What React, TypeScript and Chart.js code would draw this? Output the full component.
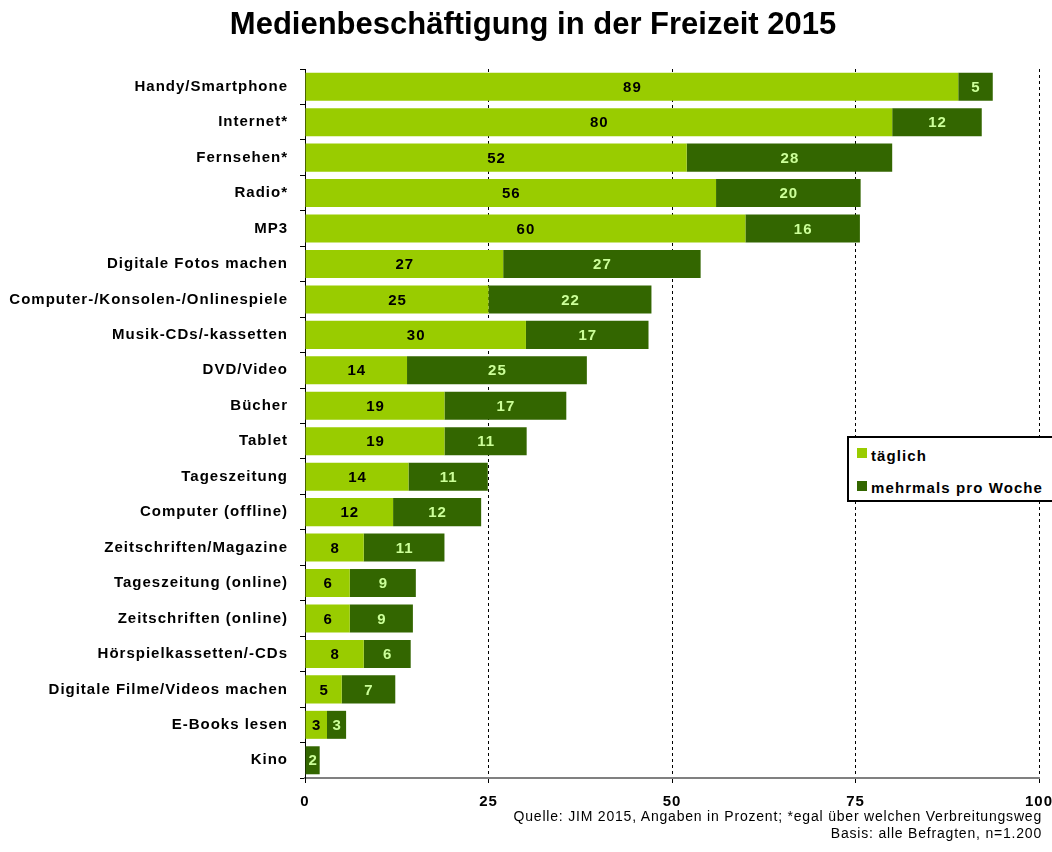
import React, { useEffect, useRef } from "react";
import { Chart, registerables } from "chart.js";

Chart.register(...registerables);

const categories = [
  "Handy/Smartphone",
  "Internet*",
  "Fernsehen*",
  "Radio*",
  "MP3",
  "Digitale Fotos machen",
  "Computer-/Konsolen-/Onlinespiele",
  "Musik-CDs/-kassetten",
  "DVD/Video",
  "Bücher",
  "Tablet",
  "Tageszeitung",
  "Computer (offline)",
  "Zeitschriften/Magazine",
  "Tageszeitung (online)",
  "Zeitschriften (online)",
  "Hörspielkassetten/-CDs",
  "Digitale Filme/Videos machen",
  "E-Books lesen",
  "Kino",
];

const taeglich = [89, 80, 52, 56, 60, 27, 25, 30.1, 13.9, 19, 19, 14.1, 12, 8, 6.1, 6.1, 8, 5, 3, 0];
const mehrmals = [4.7, 12.2, 28, 19.7, 15.6, 26.9, 22.2, 16.7, 24.5, 16.6, 11.2, 10.8, 12, 11, 9, 8.6, 6.4, 7.3, 2.6, 2];

const seriesNames = ["täglich", "mehrmals pro Woche"];
const seriesColors = ["#99CC00", "#336600"];
const xTicks = [0, 25, 50, 75, 100];
const titleText = "Medienbeschäftigung in der Freizeit 2015";
const sourceLines = [
  "Quelle: JIM 2015, Angaben in Prozent; *egal über welchen Verbreitungsweg",
  "Basis: alle Befragten, n=1.200",
];

const FONT = "'Liberation Sans', Arial, Helvetica, sans-serif";

const spacingPlugin = {
  id: "textSpacing",
  beforeDraw(chart: any) {
    try {
      (chart.ctx as any).letterSpacing = "1px";
    } catch (e) {
      /* ignore */
    }
  },
};

const barLabelPlugin = {
  id: "barLabels",
  afterDatasetsDraw(chart: any) {
    const ctx = chart.ctx;
    ctx.save();
    ctx.font = `bold 15px ${FONT}`;
    ctx.textAlign = "center";
    ctx.textBaseline = "middle";
    chart.data.datasets.forEach((ds: any, di: number) => {
      const meta = chart.getDatasetMeta(di);
      meta.data.forEach((el: any, i: number) => {
        const r = Math.round(ds.data[i]);
        if (r < 1) return;
        const p = el.getProps(["x", "y", "base"], true);
        ctx.fillStyle = di === 0 ? "#000000" : "#CCFF99";
        ctx.fillText(String(r), (p.x + p.base) / 2 + 0.5, p.y + 1);
      });
    });
    ctx.restore();
  },
};

export default function App() {
  const canvasRef = useRef<HTMLCanvasElement | null>(null);

  useEffect(() => {
    if (!canvasRef.current) return;
    const chart = new Chart(canvasRef.current, {
      type: "bar",
      data: {
        labels: categories,
        datasets: [
          {
            label: seriesNames[0],
            data: taeglich,
            backgroundColor: seriesColors[0],
            barPercentage: 0.79,
            categoryPercentage: 1,
          },
          {
            label: seriesNames[1],
            data: mehrmals,
            backgroundColor: seriesColors[1],
            barPercentage: 0.79,
            categoryPercentage: 1,
          },
        ],
      },
      options: {
        indexAxis: "y",
        responsive: false,
        animation: false,
        layout: { padding: { left: 0, right: 13, top: 69, bottom: 40 } },
        plugins: {
          legend: { display: false },
          tooltip: { enabled: false },
          title: { display: false },
        },
        scales: {
          x: {
            type: "linear",
            stacked: true,
            min: 0,
            max: 100,
            afterBuildTicks: (scale: any) => {
              scale.ticks = xTicks.map((v) => ({ value: v }));
            },
            afterFit: (scale: any) => {
              scale.height = 34;
              scale.paddingLeft = 0;
              scale.paddingRight = 0;
            },
            ticks: {
              color: "#000000",
              font: { family: FONT, size: 15, weight: "bold" },
              padding: 10,
              maxRotation: 0,
            },
            grid: {
              color: "#000000",
              lineWidth: 1,
              drawTicks: true,
              tickLength: 5,
              tickColor: "#000000",
              tickBorderDash: [],
            },
            border: { color: "#808080", width: 2, dash: [3, 3] },
          },
          y: {
            type: "category",
            stacked: true,
            afterFit: (scale: any) => {
              scale.width = 305;
              scale.paddingTop = 0;
              scale.paddingBottom = 0;
            },
            ticks: {
              color: "#000000",
              font: { family: FONT, size: 15, weight: "bold" },
              padding: 12,
              autoSkip: false,
            },
            grid: {
              drawOnChartArea: false,
              drawTicks: true,
              tickLength: 5,
              color: "#000000",
              offset: true,
            },
            border: { color: "#000000", width: 1 },
          },
        },
      },
      plugins: [spacingPlugin, barLabelPlugin],
    } as any);
    return () => chart.destroy();
  }, []);

  return (
    <div style={{ position: "absolute", left: 0, top: 0, width: 1052, height: 852, background: "#fff", overflow: "hidden" }}>
      <canvas ref={canvasRef} width={1052} height={852} style={{ display: "block" }} />
      <div
        style={{
          position: "absolute",
          left: 0,
          top: 6,
          width: 1066,
          textAlign: "center",
          fontFamily: FONT,
          fontWeight: "bold",
          fontSize: 31,
          lineHeight: "36px",
          color: "#000",
          whiteSpace: "nowrap",
        }}
      >
        {titleText}
      </div>
      <div
        style={{
          position: "absolute",
          left: 847,
          top: 436,
          width: 220,
          height: 66,
          border: "2px solid #000",
          boxSizing: "border-box",
          background: "#fff",
          fontFamily: FONT,
          fontWeight: "bold",
          fontSize: 15,
          letterSpacing: "1.1px",
          color: "#000",
        }}
      >
        {seriesNames.map((name, i) => (
          <React.Fragment key={name}>
            <div style={{ position: "absolute", left: 8, top: 10 + i * 33, width: 10, height: 10, background: seriesColors[i] }} />
            <div style={{ position: "absolute", left: 22, top: 8 + i * 32, lineHeight: "20px", whiteSpace: "nowrap" }}>{name}</div>
          </React.Fragment>
        ))}
      </div>
      <div
        style={{
          position: "absolute",
          right: 10,
          top: 808,
          textAlign: "right",
          fontFamily: FONT,
          fontSize: 14,
          letterSpacing: "0.8px",
          lineHeight: "17px",
          color: "#000",
          whiteSpace: "nowrap",
        }}
      >
        {sourceLines.map((l) => (
          <div key={l}>{l}</div>
        ))}
      </div>
    </div>
  );
}
